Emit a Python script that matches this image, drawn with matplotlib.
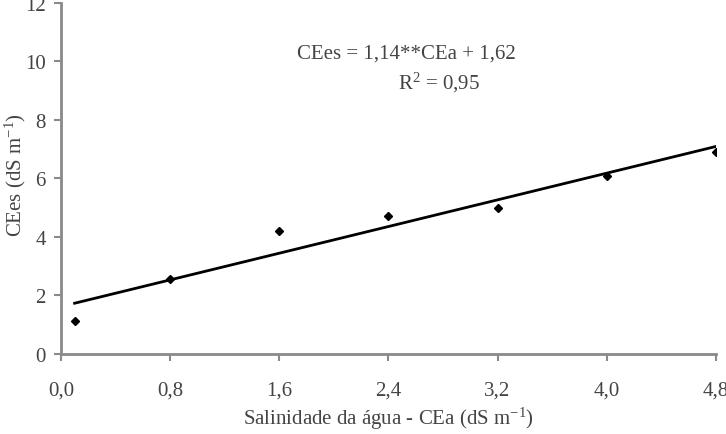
import numpy as np
import matplotlib.pyplot as plt

plt.rcParams['font.family'] = ['Liberation Serif', 'DejaVu Serif']
plt.rcParams['mathtext.fontset'] = 'custom'
plt.rcParams['mathtext.rm'] = 'Liberation Serif'
plt.rcParams['mathtext.it'] = 'Liberation Serif:italic'

cea = [0.1, 0.8, 1.6, 2.4, 3.2, 4.0, 4.8]
cees = [1.12, 2.55, 4.2, 4.7, 5.0, 6.1, 6.9]
slope = 1.14
intercept = 1.62
xticks = [0.0, 0.8, 1.6, 2.4, 3.2, 4.0, 4.8]
xlabels = ['0,0', '0,8', '1,6', '2,4', '3,2', '4,0', '4,8']
yticks = [0, 2, 4, 6, 8, 10, 12]

fig = plt.figure(figsize=(7.26, 4.35), dpi=100)
ax = fig.add_axes([0.084, 0.184, 0.902, 0.807])

ax.plot(cea, cees, 'D', color='black', markersize=4)
xfit = np.array([cea[0], cea[-1]])
ax.plot(xfit, slope * xfit + intercept, color='black', lw=2)

ax.set_xlim(0, 4.8)
ax.set_ylim(0, 12)
ax.set_xticks(xticks)
ax.set_xticklabels(xlabels)
ax.set_yticks(yticks)

for s in ['top', 'right']:
    ax.spines[s].set_visible(False)
for s in ['left', 'bottom']:
    ax.spines[s].set_color('#8a8a8a')
    ax.spines[s].set_linewidth(2)
ax.tick_params(colors='#8a8a8a', labelcolor='#444444', labelsize=15,
               width=1.5, length=5, direction='out')
ax.tick_params(axis='x', pad=14)
ax.tick_params(axis='y', pad=6)

ax.set_xlabel('Salinidade da água - CEa (dS m$^{\\mathrm{-1}}$)', fontsize=15, color='#444444', labelpad=4)
ax.set_ylabel('CEes (dS m$^{\\mathrm{-1}}$)', fontsize=15, color='#444444')
ax.yaxis.set_label_coords(-0.05, 0.513)

ax.text(2.53, 10.3, 'CEes = 1,14**CEa + 1,62', fontsize=15, color='#444444', ha='center', va='center')
ax.text(2.77, 9.3, 'R$^{\\mathrm{2}}$ = 0,95', fontsize=15, color='#444444', ha='center', va='center')

fig.savefig('out.png', dpi=100)
